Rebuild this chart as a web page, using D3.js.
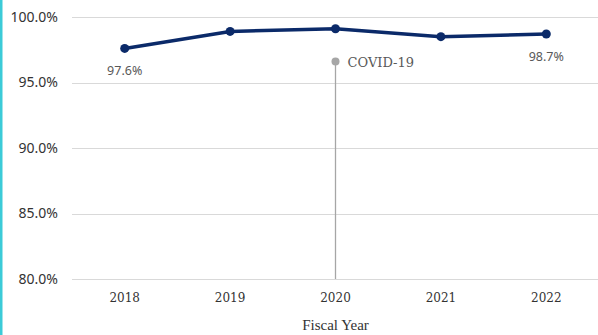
<!DOCTYPE html>
<html>
<head>
<meta charset="utf-8">
<script src="https://cdn.jsdelivr.net/npm/d3@7/dist/d3.min.js"></script>
<style>
  html, body { margin: 0; padding: 0; background: #fff; }
  svg { display: block; }
</style>
</head>
<body>
<svg id="chart" width="598" height="335"></svg>
<script>
// Fiscal years and the rate reported for each
const years = ["2018", "2019", "2020", "2021", "2022"];
const rates = [97.6, 98.9, 99.1, 98.5, 98.7];
// Years whose value is printed beside the point
const labelledYears = ["2018", "2022"];
// Y-axis ticks (percent)
const yTicks = [80, 85, 90, 95, 100];
// COVID-19 event marker
const eventYear = "2020";
const eventLevel = 96.6;
const eventLabel = "COVID-19";

const svg = d3.select("#chart");
const W = 598, H = 335;
const margin = { top: 17, right: -1, bottom: 56, left: 72 };

// Left accent bar
svg.append("rect").attr("x", 0).attr("y", 0).attr("width", 2.5).attr("height", H)
  .attr("fill", "#3ccbd8");

const x = d3.scaleBand().domain(years)
  .range([margin.left, W - margin.right]).paddingInner(0).paddingOuter(0);
const y = d3.scaleLinear().domain([80, 100])
  .range([H - margin.bottom, margin.top]);

const cx = d => x(d) + x.bandwidth() / 2;

// Gridlines
svg.append("g").selectAll("line").data(yTicks).join("line")
  .attr("x1", margin.left).attr("x2", W)
  .attr("y1", d => Math.round(y(d)) + 0.5).attr("y2", d => Math.round(y(d)) + 0.5)
  .attr("stroke", "#d9d9d9").attr("stroke-width", 1.2);

// Y axis labels
const yAxis = d3.axisLeft(y).tickValues(yTicks)
  .tickFormat(d => d3.format(".1f")(d) + "%").tickSize(0).tickPadding(14);
const gy = svg.append("g").attr("transform", `translate(${margin.left},0)`).call(yAxis);
gy.select(".domain").remove();
gy.selectAll("text").attr("font-family", "'Noto Sans', sans-serif")
  .attr("font-size", 14).attr("fill", "#333");

// X axis labels
const xAxis = d3.axisBottom(x).tickSize(0).tickPadding(14);
const gx = svg.append("g").attr("transform", `translate(0,${H - margin.bottom})`).call(xAxis);
gx.select(".domain").remove();
gx.selectAll("text").attr("font-family", "'DejaVu Serif', serif")
  .attr("font-size", 12).attr("fill", "#333");

// Axis title
svg.append("text").attr("x", cx("2020")).attr("y", 330)
  .attr("text-anchor", "middle").attr("font-family", "'Liberation Serif', serif")
  .attr("font-size", 15).attr("fill", "#333").text("Fiscal Year");

// COVID-19 marker: stem down to the baseline, dot and label
svg.append("line").attr("x1", cx(eventYear)).attr("x2", cx(eventYear))
  .attr("y1", y(eventLevel)).attr("y2", y(80))
  .attr("stroke", "#a6a6a6").attr("stroke-width", 1.3);
svg.append("circle").attr("cx", cx(eventYear)).attr("cy", y(eventLevel)).attr("r", 4)
  .attr("fill", "#a6a6a6");
svg.append("text").attr("x", cx(eventYear) + 12).attr("y", y(eventLevel) + 5)
  .attr("font-family", "'DejaVu Serif', serif").attr("font-size", 13)
  .attr("fill", "#595959").text(eventLabel);

// Rate line
const pts = years.map((yr, i) => ({ yr, v: rates[i] }));
svg.append("path").datum(pts)
  .attr("d", d3.line().x(d => cx(d.yr)).y(d => y(d.v)))
  .attr("fill", "none").attr("stroke", "#0b2a69").attr("stroke-width", 3.5)
  .attr("stroke-linejoin", "round");
svg.append("g").selectAll("circle").data(pts).join("circle")
  .attr("cx", d => cx(d.yr)).attr("cy", d => y(d.v)).attr("r", 4.5)
  .attr("fill", "#0b2a69");

// Value labels
svg.append("g").selectAll("text").data(pts.filter(d => labelledYears.includes(d.yr))).join("text")
  .attr("x", d => cx(d.yr)).attr("y", d => y(d.v) + 27)
  .attr("text-anchor", "middle").attr("font-family", "'Noto Sans', sans-serif")
  .attr("font-size", 12.5).attr("fill", "#595959")
  .text(d => d3.format(".1f")(d.v) + "%");
</script>
</body>
</html>
